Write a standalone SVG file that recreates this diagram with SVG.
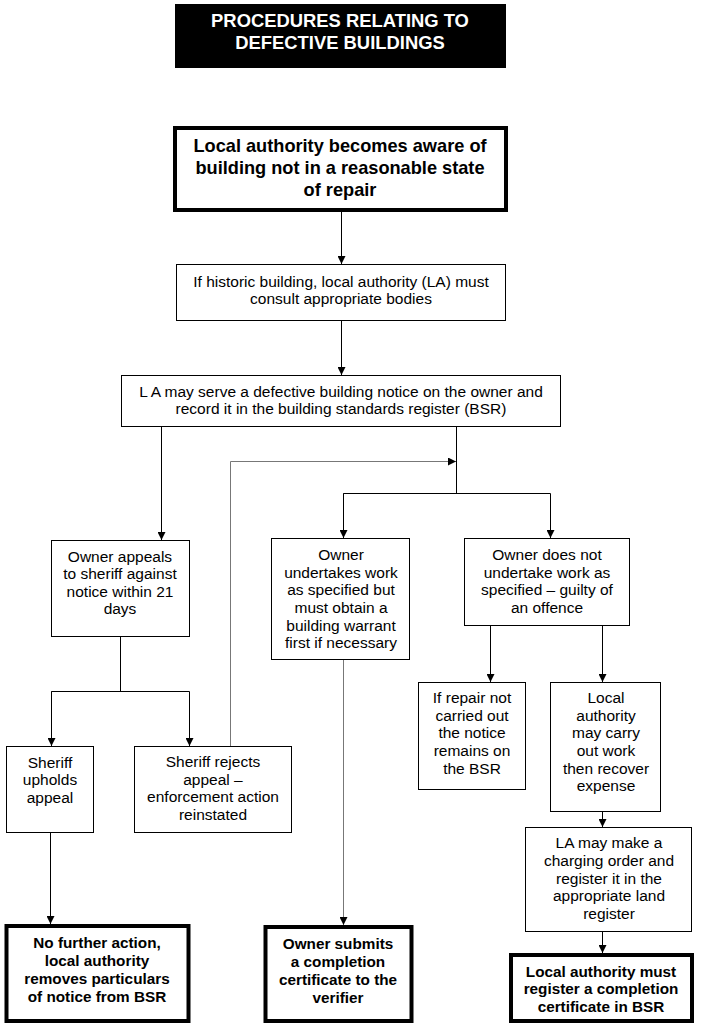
<svg xmlns="http://www.w3.org/2000/svg" width="704" height="1028" viewBox="0 0 704 1028">
<defs>
<marker id="ah" markerWidth="8" markerHeight="8" refX="8" refY="4" orient="auto" markerUnits="userSpaceOnUse">
<path d="M0,0 L8,4 L0,8 Z" fill="#000"/>
</marker>
<style>
.b{fill:#fff;stroke:#000;stroke-width:1}
.k{fill:#fff;stroke:#000;stroke-width:4}
.t{font-family:"Liberation Sans",Arial,sans-serif;font-size:15.5px;fill:#000;text-anchor:middle}
.tb{font-family:"Liberation Sans",Arial,sans-serif;font-size:15.3px;font-weight:bold;fill:#000;text-anchor:middle}
.tl{font-family:"Liberation Sans",Arial,sans-serif;font-size:18.2px;font-weight:bold;fill:#000;text-anchor:middle}
.tt{font-family:"Liberation Sans",Arial,sans-serif;font-size:18.4px;font-weight:bold;fill:#fff;text-anchor:middle}
.c{fill:none;stroke:#000;stroke-width:1}
.g{fill:none;stroke:#777;stroke-width:1}
</style>
</defs>
<rect width="704" height="1028" fill="#fff"/>
<g id="title">
<rect x="175" y="4" width="331" height="64" fill="#000"/>
<text class="tt" x="340" y="27">PROCEDURES RELATING TO</text>
<text class="tt" x="340" y="49">DEFECTIVE BUILDINGS</text>
</g>
<g id="aware">
<rect class="k" x="175" y="128" width="331" height="82"/>
<text class="tl" x="340" y="152">Local authority becomes aware of</text>
<text class="tl" x="340" y="174">building not in a reasonable state</text>
<text class="tl" x="340" y="196">of repair</text>
</g>
<g id="historic">
<rect class="b" x="176.5" y="264.5" width="329" height="56"/>
<text class="t" x="341" y="287">If historic building, local authority (LA) must</text>
<text class="t" x="341" y="304">consult appropriate bodies</text>
</g>
<g id="notice">
<rect class="b" x="121.5" y="375.5" width="439" height="51"/>
<text class="t" x="341" y="397">L A may serve a defective building notice on the owner and</text>
<text class="t" x="341" y="414">record it in the building standards register (BSR)</text>
</g>
<g id="appeal">
<rect class="b" x="51.5" y="540.5" width="138" height="96"/>
<text class="t" x="120" y="562">Owner appeals</text>
<text class="t" x="120" y="579">to sheriff against</text>
<text class="t" x="120" y="597">notice within 21</text>
<text class="t" x="120" y="614">days</text>
</g>
<g id="undertakes">
<rect class="b" x="271.5" y="538.5" width="138" height="121"/>
<text class="t" x="341" y="560">Owner</text>
<text class="t" x="341" y="578">undertakes work</text>
<text class="t" x="341" y="595">as specified but</text>
<text class="t" x="341" y="613">must obtain a</text>
<text class="t" x="341" y="631">building warrant</text>
<text class="t" x="341" y="648">first if necessary</text>
</g>
<g id="notundertake">
<rect class="b" x="464.5" y="538.5" width="165" height="87"/>
<text class="t" x="547" y="560">Owner does not</text>
<text class="t" x="547" y="578">undertake work as</text>
<text class="t" x="547" y="595">specified – guilty of</text>
<text class="t" x="547" y="613">an offence</text>
</g>
<g id="upholds">
<rect class="b" x="6.5" y="746.5" width="87" height="86"/>
<text class="t" x="50" y="768">Sheriff</text>
<text class="t" x="50" y="785">upholds</text>
<text class="t" x="50" y="803">appeal</text>
</g>
<g id="rejects">
<rect class="b" x="134.5" y="746.5" width="157" height="86"/>
<text class="t" x="213" y="767">Sheriff rejects</text>
<text class="t" x="213" y="785">appeal –</text>
<text class="t" x="213" y="802">enforcement action</text>
<text class="t" x="213" y="820">reinstated</text>
</g>
<g id="repairnot">
<rect class="b" x="418.5" y="682.5" width="107" height="107"/>
<text class="t" x="472" y="703">If repair not</text>
<text class="t" x="472" y="721">carried out</text>
<text class="t" x="472" y="738">the notice</text>
<text class="t" x="472" y="756">remains on</text>
<text class="t" x="472" y="774">the BSR</text>
</g>
<g id="carryout">
<rect class="b" x="550.5" y="682.5" width="110" height="129"/>
<text class="t" x="606" y="703">Local</text>
<text class="t" x="606" y="721">authority</text>
<text class="t" x="606" y="738">may carry</text>
<text class="t" x="606" y="756">out work</text>
<text class="t" x="606" y="774">then recover</text>
<text class="t" x="606" y="791">expense</text>
</g>
<g id="charging">
<rect class="b" x="525.5" y="827.5" width="166" height="104"/>
<text class="t" x="609" y="848">LA may make a</text>
<text class="t" x="609" y="866">charging order and</text>
<text class="t" x="609" y="884">register it in the</text>
<text class="t" x="609" y="901">appropriate land</text>
<text class="t" x="609" y="919">register</text>
</g>
<g id="nofurther">
<rect class="k" x="6.5" y="926" width="182" height="95"/>
<text class="tb" x="97" y="948">No further action,</text>
<text class="tb" x="97" y="966">local authority</text>
<text class="tb" x="97" y="984">removes particulars</text>
<text class="tb" x="97" y="1002">of notice from BSR</text>
</g>
<g id="submits">
<rect class="k" x="265.5" y="927" width="146" height="94"/>
<text class="tb" x="338" y="949">Owner submits</text>
<text class="tb" x="338" y="967">a completion</text>
<text class="tb" x="338" y="985">certificate to the</text>
<text class="tb" x="338" y="1003">verifier</text>
</g>
<g id="register">
<rect class="k" x="511" y="955" width="181" height="66"/>
<text class="tb" x="601" y="977">Local authority must</text>
<text class="tb" x="601" y="994">register a completion</text>
<text class="tb" x="601" y="1012">certificate in BSR</text>
</g>
<g id="connectors">
<path class="c" d="M341.5,212 V264" marker-end="url(#ah)"/>
<path class="c" d="M341.5,321 V375" marker-end="url(#ah)"/>
<path class="c" d="M161.5,427 V540" marker-end="url(#ah)"/>
<path class="c" d="M456.5,427 V493.5"/>
<path class="c" d="M343.5,538 V493.5 H550.5 V538" marker-end="url(#ah)"/>
<path class="c" d="M343.5,493.5 V538" marker-end="url(#ah)"/>
<path class="g" d="M230.5,746 V461.5 H456" marker-end="url(#ah)"/>
<path class="c" d="M120.5,637 V691.5"/>
<path class="c" d="M51.5,746 V691.5 H189.5 V746" marker-end="url(#ah)"/>
<path class="c" d="M51.5,691.5 V746" marker-end="url(#ah)"/>
<path class="c" d="M50.5,833 V924" marker-end="url(#ah)"/>
<path class="g" d="M343.5,660 V925" marker-end="url(#ah)"/>
<path class="c" d="M490.5,626 V682" marker-end="url(#ah)"/>
<path class="c" d="M602.5,626 V682" marker-end="url(#ah)"/>
<path class="c" d="M602.5,812 V827" marker-end="url(#ah)"/>
<path class="c" d="M602.5,932 V953" marker-end="url(#ah)"/>
</g>
</svg>
